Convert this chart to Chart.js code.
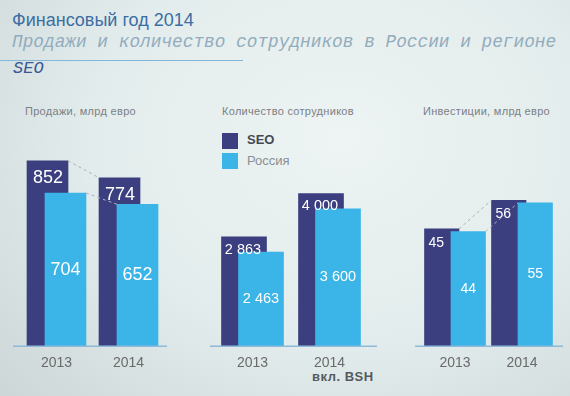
<!DOCTYPE html>
<html lang="ru">
<head>
<meta charset="utf-8">
<script src="https://cdn.jsdelivr.net/npm/chart.js@4"></script>
<style>
  html, body { margin: 0; padding: 0; }
  body {
    width: 570px; height: 396px; overflow: hidden; position: relative;
    font-family: "Liberation Sans", Arial, sans-serif;
    background: radial-gradient(ellipse 80% 95% at 60% 35%, #edf4f3 0%, #e3ecec 55%, #cdd7d7 100%);
  }
  .abs { position: absolute; white-space: nowrap; line-height: 1; }
  #title { left: 12px; top: 11px; font-size: 18px; color: #3b6ea3; }
  #subtitle { left: 12px; top: 34px; font-family: "Liberation Mono", monospace; font-style: italic; font-size: 17.8px; color: #92acbd; }
  #rule { position: absolute; left: 0; top: 60px; width: 243px; height: 1px; background: #86b6d6; }
  #seo { left: 13px; top: 60px; font-family: "Liberation Mono", monospace; font-style: italic; font-size: 17px; color: #3a5896; }
  .ctitle { top: 106px; font-size: 11px; color: #7b8085; letter-spacing: 0.3px; }
  .legend-item { position: absolute; left: 222px; }
  .legend-dot { position: absolute; left: 0; width: 16px; height: 16px; }
  .legend-text { position: absolute; left: 25px; white-space: nowrap; line-height: 1; }
  #bsh { left: 312px; top: 370px; font-size: 13px; font-weight: bold; color: #555a60; letter-spacing: 0.5px; }
  canvas { position: absolute; top: 120px; }
</style>
</head>
<body>
<div id="title" class="abs">Финансовый год 2014</div>
<div id="subtitle" class="abs">Продажи и количество сотрудников в России и регионе</div>
<div id="rule"></div>
<div id="seo" class="abs">SEO</div>

<div class="abs ctitle" style="left:25px">Продажи, млрд евро</div>
<div class="abs ctitle" style="left:222px">Количество сотрудников</div>
<div class="abs ctitle" style="left:423px">Инвестиции, млрд евро</div>

<div id="legend"></div>
<div id="bsh" class="abs">вкл. BSH</div>

<canvas id="salesChart" width="154" height="276" style="left:13px"></canvas>
<canvas id="staffChart" width="167" height="276" style="left:210px"></canvas>
<canvas id="investChart" width="148" height="276" style="left:415px"></canvas>

<script>
const years = ["2013", "2014"];
const seriesNames = ["SEO", "Россия"];
const salesSEO = [852, 774];
const salesRussia = [704, 652];
const staffSEO = [2863, 4000];
const staffRussia = [2463, 3600];
const investSEO = [45, 56];
const investRussia = [44, 55];

const DARK = "#3c3f7f";
const LIGHT = "#3bb5e8";

// "2 863" - пробел как разделитель тысяч
const fmt = (v) => String(v).replace(/\B(?=(\d{3})+(?!\d))/g, " ");

// Сдвиг столбцов (перекрытие), базовая линия, пунктир и подписи
const overlapBars = {
  id: "overlapBars",
  afterDatasetsUpdate(chart) {
    chart.data.datasets.forEach((ds, i) => {
      chart.getDatasetMeta(i).data.forEach((bar) => { bar.x += ds.shift; });
    });
  },
  afterDatasetsDraw(chart, args, opts) {
    const ctx = chart.ctx;
    const y0 = chart.scales.y.getPixelForValue(0);
    ctx.save();
    ctx.strokeStyle = "#8dbad9";
    ctx.lineWidth = 1.5;
    ctx.beginPath();
    ctx.moveTo(0, y0);
    ctx.lineTo(chart.width, y0);
    ctx.stroke();

    if (opts.connectors) {
      ctx.setLineDash([3, 3]);
      ctx.strokeStyle = "#a9b3bb";
      ctx.lineWidth = 1;
      chart.data.datasets.forEach((ds, i) => {
        const [a, b] = chart.getDatasetMeta(i).data;
        ctx.beginPath();
        ctx.moveTo(a.x + a.width / 2, a.y);
        ctx.lineTo(b.x - b.width / 2, b.y);
        ctx.stroke();
      });
      ctx.setLineDash([]);
    }

    ctx.fillStyle = "#ffffff";
    ctx.textAlign = "center";
    ctx.textBaseline = "middle";
    ctx.font = opts.labelFont;
    chart.data.datasets.forEach((ds, i) => {
      chart.getDatasetMeta(i).data.forEach((bar, j) => {
        const top = ds.labelAt === "top";
        const y = top ? bar.y + opts.topOffset : (bar.y + bar.base) / 2;
        const x = top ? bar.x + opts.topShift : bar.x;
        ctx.fillText(fmt(ds.data[j]), x, y);
      });
    });
    ctx.restore();
  },
};

function makeChart(id, seo, russia, cfg) {
  return new Chart(document.getElementById(id), {
    type: "bar",
    data: {
      labels: years,
      datasets: [
        { label: seriesNames[0], data: seo, backgroundColor: DARK, barThickness: cfg.thickness,
          grouped: false, order: 1, shift: -cfg.shift, labelAt: "top" },
        { label: seriesNames[1], data: russia, backgroundColor: LIGHT, barThickness: cfg.thickness,
          grouped: false, order: 0, shift: cfg.shift, labelAt: "middle" },
      ],
    },
    options: {
      responsive: false,
      animation: false,
      events: [],
      layout: { padding: { left: cfg.padLeft, right: cfg.padRight, top: 8.6, bottom: 15 } },
      scales: {
        x: {
          offset: true,
          grid: { display: false, drawTicks: false },
          border: { display: false },
          ticks: { color: "#6a6a6a", padding: 9, font: { family: "Liberation Sans", size: 14 } },
        },
        y: { display: false, min: 0, max: cfg.max },
      },
      plugins: {
        legend: { display: false },
        tooltip: { enabled: false },
        overlapBars: { connectors: cfg.connectors, labelFont: cfg.font, topOffset: cfg.topOffset, topShift: cfg.topShift },
      },
    },
    plugins: [overlapBars],
  });
}

makeChart("salesChart", salesSEO, salesRussia, {
  max: 1000, thickness: 41, shift: 9, padLeft: 7.5, padRight: 2.5,
  connectors: true, font: "18px 'Liberation Sans'", topOffset: 17, topShift: 0.5,
});
makeChart("staffChart", staffSEO, staffRussia, {
  max: 5700, thickness: 45, shift: 8.5, padLeft: 4, padRight: 9,
  connectors: false, font: "14.5px 'Liberation Sans'", topOffset: 13, topShift: -1,
});
makeChart("investChart", investSEO, investRussia, {
  max: 83.5, thickness: 34.5, shift: 13.25, padLeft: 6.5, padRight: 7.5,
  connectors: true, font: "14px 'Liberation Sans'", topOffset: 14, topShift: -5.5,
});

// Легенда
const legendEl = document.getElementById("legend");
const legendColors = [DARK, LIGHT];
const legendTops = [133, 153];
legendEl.innerHTML = seriesNames
  .map(
    (name, i) =>
      `<div class="legend-item" style="top:${legendTops[i]}px"><span class="legend-dot" style="background:${legendColors[i]}"></span>` +
      `<span class="legend-text" style="top:${i === 0 ? 0 : 1}px;font-size:13px;${i === 0 ? "font-weight:bold;color:#444a55" : "color:#8a8f95"}">${name}</span></div>`
  )
  .join("");
</script>
</body>
</html>
